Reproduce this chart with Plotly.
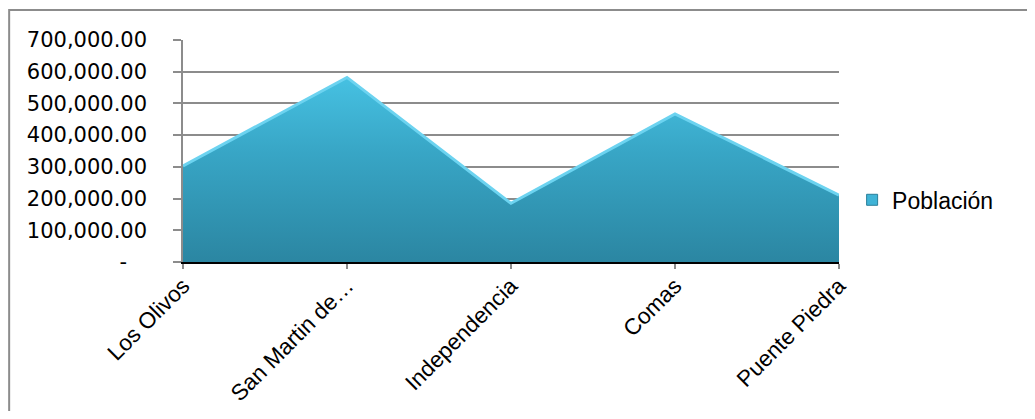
import plotly.graph_objects as go

distritos = ["Los Olivos", "San Martin de…", "Independencia", "Comas", "Puente Piedra"]
poblacion = [303000, 582000, 185000, 467000, 211000]
y_ticks = [0, 100000, 200000, 300000, 400000, 500000, 600000, 700000]
y_labels = ["-\u00a0\u00a0\u00a0", "100,000.00", "200,000.00", "300,000.00",
            "400,000.00", "500,000.00", "600,000.00", "700,000.00"]

x_pos = list(range(len(distritos)))

fig = go.Figure()

# area with vertical gradient, light bevel line on top
fig.add_trace(go.Scatter(
    x=x_pos, y=poblacion,
    mode="lines",
    fill="tozeroy",
    fillgradient=dict(type="vertical",
                      colorscale=[[0, "#2b86a2"], [0.6, "#38a6c6"], [1, "#46c1e2"]]),
    line=dict(color="#6cd3f0", width=3),
    showlegend=False,
    hoverinfo="skip",
))

# legend entry only (small square swatch)
fig.add_trace(go.Scatter(
    x=[None], y=[None],
    mode="markers",
    name="Población",
    marker=dict(symbol="square", size=11, color="#3fb3d6",
                line=dict(color="#2a7f99", width=1)),
))

# page body has an 8px margin, so the figure is sized/offset to compensate
fig.update_layout(
    width=1019, height=403,
    margin=dict(l=175, r=188, t=32, b=149, autoexpand=False),
    paper_bgcolor="white",
    plot_bgcolor="white",
    showlegend=True,
    legend=dict(
        x=1.02, xanchor="left", y=0.28, yanchor="middle",
        font=dict(family="Liberation Sans, Arial", size=23, color="#000"),
        bgcolor="rgba(0,0,0,0)",
        itemwidth=30,
    ),
    shapes=[dict(type="rect", xref="paper", yref="paper",
                 x0=-0.265, x1=1.4, y0=-0.9, y1=1.135,
                 line=dict(color="#8c8c8c", width=2), fillcolor="rgba(0,0,0,0)",
                 layer="below")],
)

fig.update_xaxes(
    range=[0, 4],
    tickvals=x_pos, ticktext=distritos,
    tickangle=-45,
    automargin=False,
    showgrid=False,
    showline=True, linecolor="#000", linewidth=1.5,
    ticks="outside", ticklen=5, tickcolor="#8c8c8c", tickwidth=1.5,
    ticklabelstandoff=-5,
    tickfont=dict(family="Liberation Sans, Arial", size=22.5, color="#000"),
    zeroline=False,
)

fig.update_yaxes(
    range=[0, 700000],
    tickvals=y_ticks, ticktext=y_labels,
    automargin=False,
    showgrid=True, gridcolor="#8c8c8c", gridwidth=1.5,
    showline=True, linecolor="#8c8c8c", linewidth=1.5,
    ticks="outside", ticklen=8, tickcolor="#8c8c8c", tickwidth=1.5,
    ticklabelstandoff=22,
    tickfont=dict(family="DejaVu Sans", size=21, color="#000"),
    zeroline=False,
)

fig.write_html("out.html")
